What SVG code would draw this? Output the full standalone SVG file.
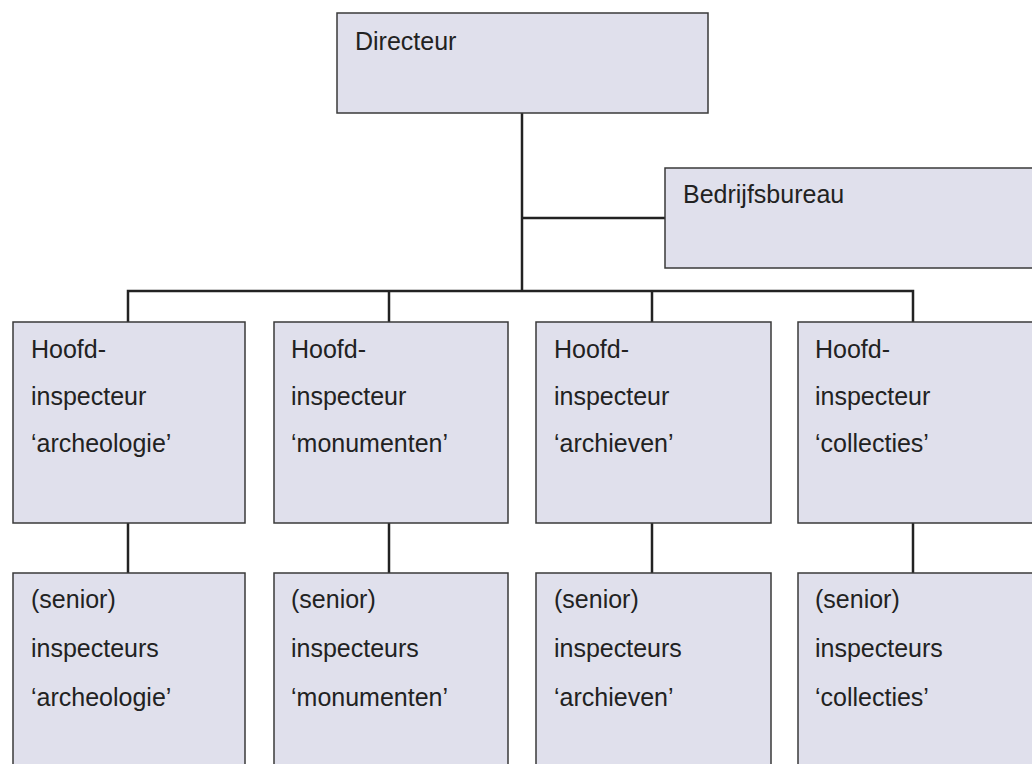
<svg xmlns="http://www.w3.org/2000/svg" width="1032" height="764" viewBox="0 0 1032 764">
<style>
.box{fill:#e0e0ec;stroke:#3a3a3a;stroke-width:1.5}
.t{font-family:"Liberation Sans",Arial,sans-serif;font-size:25px;fill:#222}
.c{stroke:#222;stroke-width:2.5;fill:none}
</style>
<rect width="1032" height="764" fill="#fff"/>
<g id="connectors">
<line class="c" x1="522" y1="113" x2="522" y2="291"/>
<line class="c" x1="522" y1="218" x2="665" y2="218"/>
<polyline class="c" points="128,322 128,291 913,291 913,322"/>
<line class="c" x1="389" y1="291" x2="389" y2="322"/>
<line class="c" x1="652" y1="291" x2="652" y2="322"/>
<line class="c" x1="128" y1="523" x2="128" y2="573"/>
<line class="c" x1="389" y1="523" x2="389" y2="573"/>
<line class="c" x1="652" y1="523" x2="652" y2="573"/>
<line class="c" x1="913" y1="523" x2="913" y2="573"/>
</g>
<g id="directeur"><rect class="box" x="337" y="13" width="371" height="100"/><text class="t" x="355" y="50">Directeur</text></g>
<g id="bedrijfsbureau"><rect class="box" x="665" y="168" width="372" height="100"/><text class="t" x="683" y="203">Bedrijfsbureau</text></g>
<g id="hi-archeologie"><rect class="box" x="13" y="322" width="232" height="201"/><text class="t" x="31" y="358">Hoofd-</text><text class="t" x="31" y="405">inspecteur</text><text class="t" x="31" y="452">‘archeologie’</text></g>
<g id="hi-monumenten"><rect class="box" x="274" y="322" width="234" height="201"/><text class="t" x="291" y="358">Hoofd-</text><text class="t" x="291" y="405">inspecteur</text><text class="t" x="291" y="452">‘monumenten’</text></g>
<g id="hi-archieven"><rect class="box" x="536" y="322" width="235" height="201"/><text class="t" x="554" y="358">Hoofd-</text><text class="t" x="554" y="405">inspecteur</text><text class="t" x="554" y="452">‘archieven’</text></g>
<g id="hi-collecties"><rect class="box" x="798" y="322" width="240" height="201"/><text class="t" x="815" y="358">Hoofd-</text><text class="t" x="815" y="405">inspecteur</text><text class="t" x="815" y="452">‘collecties’</text></g>
<g id="si-archeologie"><rect class="box" x="13" y="573" width="232" height="200"/><text class="t" x="31" y="608">(senior)</text><text class="t" x="31" y="657">inspecteurs</text><text class="t" x="31" y="706">‘archeologie’</text></g>
<g id="si-monumenten"><rect class="box" x="274" y="573" width="234" height="200"/><text class="t" x="291" y="608">(senior)</text><text class="t" x="291" y="657">inspecteurs</text><text class="t" x="291" y="706">‘monumenten’</text></g>
<g id="si-archieven"><rect class="box" x="536" y="573" width="235" height="200"/><text class="t" x="554" y="608">(senior)</text><text class="t" x="554" y="657">inspecteurs</text><text class="t" x="554" y="706">‘archieven’</text></g>
<g id="si-collecties"><rect class="box" x="798" y="573" width="240" height="200"/><text class="t" x="815" y="608">(senior)</text><text class="t" x="815" y="657">inspecteurs</text><text class="t" x="815" y="706">‘collecties’</text></g>
</svg>
